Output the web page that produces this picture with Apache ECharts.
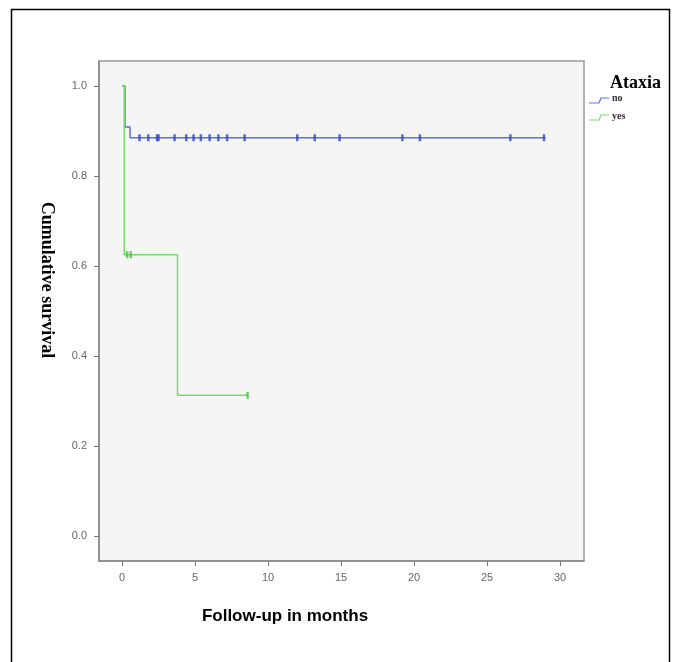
<!DOCTYPE html>
<html>
<head>
<meta charset="utf-8">
<script src="https://cdn.jsdelivr.net/npm/echarts@6/dist/echarts.min.js"></script>
<style>html,body{margin:0;padding:0;background:#fff}#c{width:673px;height:662px}</style>
</head>
<body>
<div id="c"></div>
<script>
// Kaplan-Meier steps: [months, cumulative survival]
const noSteps = [[0, 1.0], [0.2, 0.909], [0.55, 0.885], [29.0, 0.885]];
const yesSteps = [[0, 1.0], [0.15, 0.625], [3.8, 0.3125], [8.6, 0.3125]];
// censored observations (months)
const noCensor = [1.2, 1.8, 2.4, 2.5, 3.6, 4.4, 4.9, 5.4, 6.0, 6.6, 7.2, 8.4, 12.0, 13.2, 14.9, 19.2, 20.4, 26.6, 28.9];
const noCensorLevel = 0.885;
const yesCensor = [0.35, 0.6, 8.6];
const yesCensorLevels = [0.625, 0.625, 0.3125];
const xTicks = [0, 5, 10, 15, 20, 25, 30];
const yTicks = [0, 0.2, 0.4, 0.6, 0.8, 1.0];
const groups = ['no', 'yes'];
const legendTitle = 'Ataxia';
const xTitle = 'Follow-up in months';
const yTitle = 'Cumulative survival';

const BLUE = '#5b6fe0', BLUE_D = '#3346c4';
const GREEN = '#74dc6a', GREEN_D = '#4cc441';

const chart = echarts.init(document.getElementById('c'), null, {renderer: 'canvas'});
chart.setOption({
  animation: false,
  backgroundColor: '#ffffff',
  grid: {left: 99, top: 61, width: 485, height: 500, show: true,
         backgroundColor: '#f5f5f5', borderColor: '#999', borderWidth: 1.5},
  xAxis: {
    type: 'value', min: -1.575, max: 31.64,
    axisLine: {show: true, onZero: false, lineStyle: {color: '#888', width: 1.5}},
    axisTick: {show: true, length: 5, customValues: xTicks, lineStyle: {color: '#777'}},
    axisLabel: {customValues: xTicks, color: '#666', fontSize: 11, fontFamily: 'Liberation Sans', margin: 11},
    splitLine: {show: false}
  },
  yAxis: {
    type: 'value', min: -0.0556, max: 1.0556,
    axisLine: {show: true, onZero: false, lineStyle: {color: '#888', width: 1.5}},
    axisTick: {show: true, length: 5, customValues: yTicks, lineStyle: {color: '#777'}},
    axisLabel: {customValues: yTicks, color: '#666', fontSize: 11, fontFamily: 'Liberation Sans', margin: 12,
                formatter: v => v.toFixed(1)},
    splitLine: {show: false}
  },
  series: [
    {name: groups[0], type: 'line', step: 'end', data: noSteps, symbol: 'none',
     lineStyle: {color: BLUE, width: 1.5}, z: 2},
    {name: groups[1], type: 'line', step: 'end', data: yesSteps, symbol: 'none',
     lineStyle: {color: GREEN, width: 1.5}, z: 3},
    {type: 'scatter', data: noCensor.map(t => [t, noCensorLevel]), symbol: 'rect', symbolSize: [2.5, 7],
     itemStyle: {color: BLUE_D}, z: 4},
    {type: 'scatter', data: yesCensor.map((t, i) => [t, yesCensorLevels[i]]), symbol: 'rect', symbolSize: [2.5, 7],
     itemStyle: {color: GREEN_D}, z: 4}
  ],
  graphic: [
    {type: 'rect', shape: {x: 11.5, y: 9.5, width: 658, height: 700}, style: {fill: 'none', stroke: '#000', lineWidth: 1.5}, z: -1},
    {type: 'text', x: 285, y: 616, style: {text: xTitle, font: 'bold 17px "Liberation Sans"', fill: '#000', align: 'center', verticalAlign: 'middle'}},
    {type: 'text', x: 47, y: 280, rotation: -Math.PI / 2, style: {text: yTitle, font: 'bold 18px "Liberation Serif"', fill: '#000', align: 'center', verticalAlign: 'middle'}},
    {type: 'text', x: 610, y: 83, style: {text: legendTitle, font: 'bold 18px "Liberation Serif"', fill: '#000', align: 'left', verticalAlign: 'middle'}},
    {type: 'polyline', shape: {points: [[589, 103], [599, 103], [601, 98], [609, 98]]}, style: {stroke: BLUE, lineWidth: 1.2, fill: null}},
    {type: 'text', x: 612, y: 98, style: {text: groups[0], font: 'bold 10px "Liberation Serif"', fill: '#333', align: 'left', verticalAlign: 'middle'}},
    {type: 'polyline', shape: {points: [[589, 120], [599, 120], [601, 115], [609, 115]]}, style: {stroke: GREEN, lineWidth: 1.2, fill: null}},
    {type: 'text', x: 612, y: 116, style: {text: groups[1], font: 'bold 10px "Liberation Serif"', fill: '#333', align: 'left', verticalAlign: 'middle'}}
  ]
});
</script>
</body>
</html>
